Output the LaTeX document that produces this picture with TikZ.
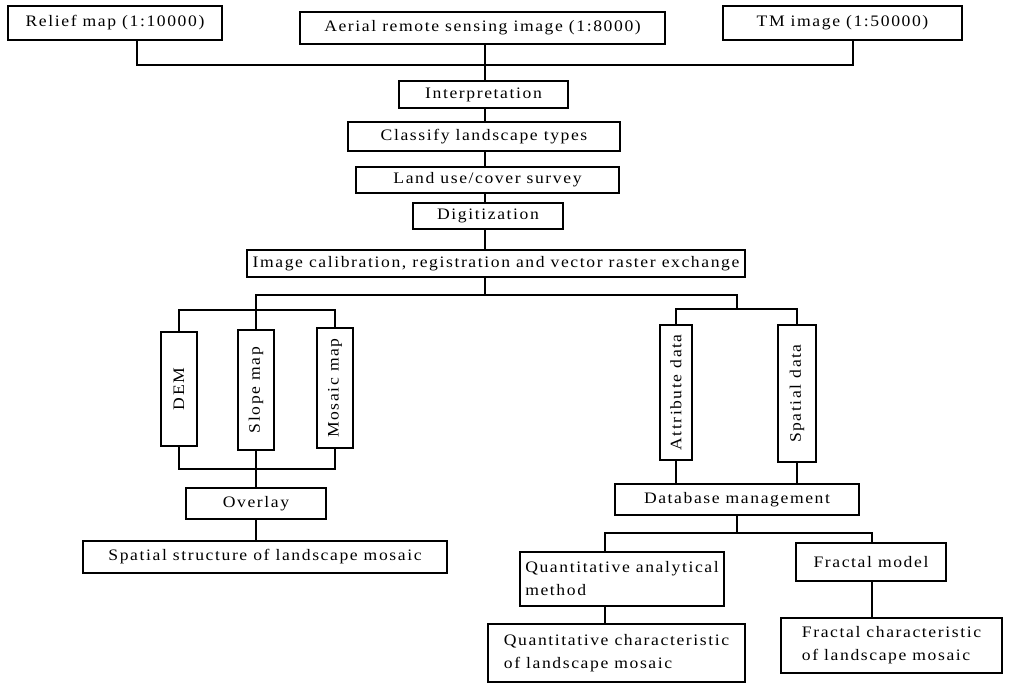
\documentclass[tikz,border=0pt]{standalone}
\usepackage{fontspec}
\setmainfont{Liberation Serif}[LetterSpace=10,FakeStretch=1.1]
\begin{document}
\begin{tikzpicture}[x=1pt,y=-1pt,
  bx/.style n args={4}{draw, line width=1.1pt, inner sep=0pt, align=left,
    font=\fontsize{16}{23}\selectfont,
    minimum width={#3-#1}, minimum height={#4-#2},
    at={({(#1+#3)/2},{(#2+#4)/2})}},
  ln/.style={line width=1.1pt}]
\useasboundingbox (0,0) rectangle (1025,683);
% boxes
\node[bx={8}{6}{222}{40}] (relief) {Relief map (1:10000)};
\node[bx={300}{12}{665}{44}] (aerial) {Aerial remote sensing image (1:8000)};
\node[bx={723}{6}{962}{40}] (tm) {TM image (1:50000)};
\node[bx={399}{81}{568}{108}] (interp) {Interpretation};
\node[bx={348}{122}{620}{151}] (classify) {Classify landscape types};
\node[bx={356}{167}{619}{193}] (landuse) {Land use/cover survey};
\node[bx={413}{203}{563}{229}] (digit) {Digitization};
\node[bx={247}{250}{745}{277}] (calib) {Image calibration, registration and vector raster exchange};
\node[bx={161}{332}{197}{446}] (dem) {\rotatebox{90}{DEM}};
\node[bx={238}{330}{274}{450}] (slope) {\rotatebox{90}{Slope map}};
\node[bx={317}{328}{353}{448}] (mosaic) {\rotatebox{90}{Mosaic map}};
\node[bx={186}{488}{326}{519}] (overlay) {Overlay};
\node[bx={83}{541}{447}{573}] (spatial) {Spatial structure of landscape mosaic};
\node[bx={660}{325}{692}{460}] (attr) {\rotatebox{90}{Attribute data}};
\node[bx={778}{325}{816}{462}] (spdata) {\rotatebox{90}{Spatial data}};
\node[bx={615}{484}{859}{515}] (db) {Database management};
\node[bx={520}{552}{724}{606}] (qm) {Quantitative analytical\\method};
\node[bx={796}{543}{946}{581}] (fm) {Fractal model};
\node[bx={488}{624}{745}{682}] (qc) {Quantitative characteristic\\of landscape mosaic};
\node[bx={781}{618}{1002}{673}] (fc) {Fractal characteristic\\of landscape mosaic};
% junction points
\coordinate (spine) at (485,0);
\coordinate (jl) at (137,65);
\coordinate (jr) at (853,65);
\coordinate (sp1) at (485,295);
\coordinate (bl) at (256,295);
\coordinate (br) at (737,295);
\coordinate (bl2) at (256,310);
\coordinate (br2) at (737,309);
\coordinate (jb) at (0,469);
\coordinate (jq) at (605,533);
\coordinate (jf) at (872,533);
% connectors
\draw[ln] (relief.south -| jl) -- (jl) -- (jr) -- (tm.south -| jr);
\draw[ln] (aerial.south -| spine) -- (interp.north -| spine);
\draw[ln] (interp.south -| spine) -- (classify.north -| spine);
\draw[ln] (classify.south -| spine) -- (landuse.north -| spine);
\draw[ln] (landuse.south -| spine) -- (digit.north -| spine);
\draw[ln] (digit.south -| spine) -- (calib.north -| spine);
\draw[ln] (calib.south -| sp1) -- (sp1);
\draw[ln] (bl2) -- (bl) -- (br) -- (br2);
\draw[ln] (dem.north) |- (mosaic.north |- bl2) -- (mosaic.north);
\draw[ln] (slope.north) -- (slope.north |- bl2);
\draw[ln] (attr.north) |- (spdata.north |- br2) -- (spdata.north);
\draw[ln] (dem.south) |- (mosaic.south |- jb) -- (mosaic.south);
\draw[ln] (slope.south) -- (overlay.north);
\draw[ln] (overlay.south) -- (overlay.south |- spatial.north);
\draw[ln] (attr.south) -- (attr.south |- db.north);
\draw[ln] (spdata.south) -- (spdata.south |- db.north);
\draw[ln] (db.south) -- (db.south |- jq);
\draw[ln] (qm.north -| jq) -- (jq) -- (jf) -- (fm.north -| jf);
\draw[ln] (qm.south -| jq) -- (qc.north -| jq);
\draw[ln] (fm.south -| jf) -- (fc.north -| jf);
\end{tikzpicture}
\end{document}
